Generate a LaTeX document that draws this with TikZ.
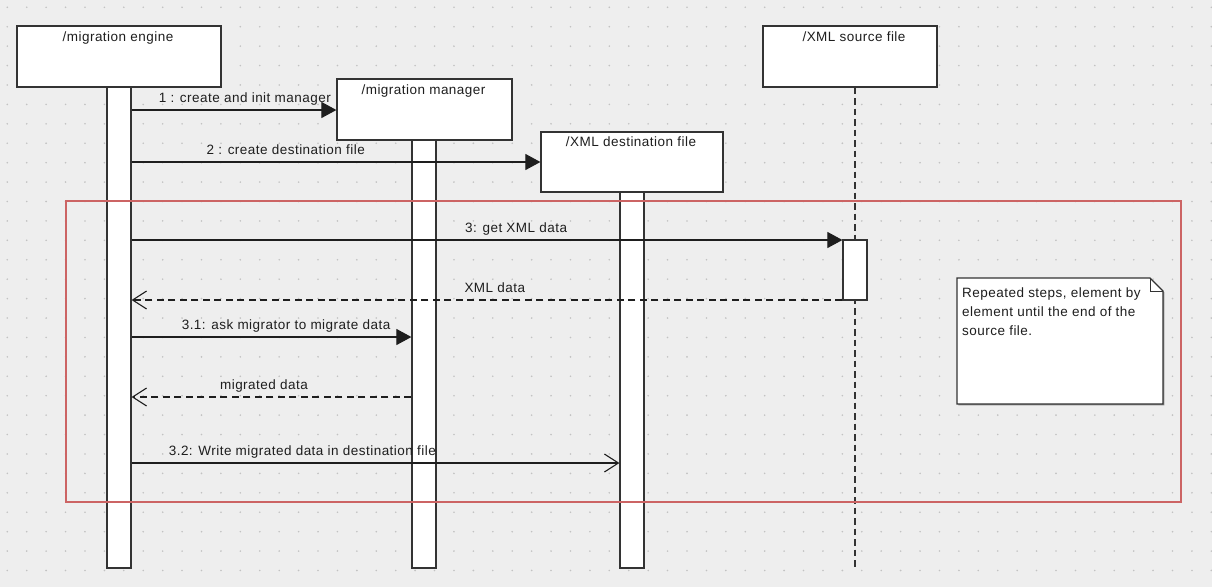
\documentclass[tikz,border=0pt]{standalone}
\usepackage{fontspec}
\setmainfont{Liberation Sans}[LetterSpace=3.5]
\usetikzlibrary{arrows.meta,shadows,calc}

\definecolor{canvas}{HTML}{EEEEEE}
\definecolor{griddot}{HTML}{C2C2C2}
\definecolor{ink}{HTML}{1E1E1E}
\definecolor{edge}{HTML}{333333}
\definecolor{loopframe}{HTML}{CC6464}

\tikzset{
  boxshadow/.style={drop shadow={shadow xshift=1.4pt, shadow yshift=-1.4pt, opacity=0.4, fill=black}},
  lifebox/.style={draw=edge, line width=1.2pt, fill=white, rectangle, inner sep=0pt, boxshadow},
  actbar/.style={lifebox, minimum width=24pt},
  boxtitle/.style={anchor=base, inner sep=0pt, text=ink, font=\fontsize{13.5}{15}\selectfont},
  msg/.style={draw=ink, line width=1.1pt},
  call/.style={msg, -{Triangle[length=15pt,width=16pt]}},
  sendopen/.style={msg, -{Straight Barb[length=14pt,width=18pt,line width=1.1pt]}},
  reply/.style={msg, line width=1.3pt, dash pattern=on 7pt off 4.5pt, -{Straight Barb[length=14pt,width=18pt,line width=1.1pt]}},
  msglabel/.style={anchor=base, yshift=7.5pt, inner sep=0pt, text=ink, font=\fontsize{13.5}{15}\selectfont},
  lifeline/.style={draw=edge, line width=1.6pt, dash pattern=on 6.5pt off 4pt},
}

\begin{document}
\begin{tikzpicture}[x=1pt, y=-1pt]
  % canvas and dotted grid
  \fill[canvas] (0,0) rectangle (1212,587);
  \useasboundingbox (0,0) rectangle (1212,587);
  \foreach \i in {0,...,62}
    \foreach \j in {0,...,30}
      \fill[griddot] ({7.3+19.42*\i},{7.3+19.42*\j}) circle (0.9pt);

  % message heights
  \coordinate (y1) at (0,110);
  \coordinate (y2) at (0,162);
  \coordinate (y3) at (0,240);
  \coordinate (y4) at (0,300);
  \coordinate (y5) at (0,337);
  \coordinate (y6) at (0,397);
  \coordinate (y7) at (0,463);

  % source file lifeline (dashed)
  \node[lifebox, minimum width=174pt, minimum height=61pt] (src) at (850,56.5) {};
  \coordinate (srcend) at (855,567);
  \draw[lifeline] (src.south -| srcend) -- (srcend);

  % lifeline heads
  \node[lifebox, minimum width=204pt, minimum height=61pt] (eng) at (119,56.5) {};
  \node[lifebox, minimum width=175pt, minimum height=61pt] (mgr) at (424.5,109.5) {};
  \node[lifebox, minimum width=182pt, minimum height=60pt] (dst) at (632,162) {};

  \node[boxtitle] (engt) at ([yshift=-16.5pt,xshift=-1pt]eng.north) {/migration engine};
  \node[boxtitle] (mgrt) at ([yshift=-16.5pt,xshift=-1pt]mgr.north) {/migration manager};
  \node[boxtitle] (dstt) at ([yshift=-15.5pt,xshift=-1pt]dst.north) {/XML destination file};
  \node[boxtitle] (srct) at ([yshift=-16.5pt,xshift=4pt]src.north) {/XML source file};

  % activation bars
  \node[actbar, minimum height=481pt] (eb) at (119,327.5) {};
  \node[actbar, minimum height=428pt] (mb) at (424,354) {};
  \node[actbar, minimum height=376pt] (db) at (632,380) {};
  \node[actbar, minimum height=60pt] (sb) at (855,270) {};

  % loop frame
  \draw[loopframe, line width=1.2pt] (66,201) rectangle (1181,502);

  % messages
  \draw[call] (eb.east |- y1) -- (mgr.west |- y1)
    node[msglabel, pos=0.553] {1 : create and init manager};
  \draw[call] (eb.east |- y2) -- (dst.west |- y2)
    node[msglabel, pos=0.377] {2 : create destination file};
  \draw[call] (eb.east |- y3) -- (sb.west |- y3)
    node[msglabel, pos=0.541] {3: get XML data};
  \draw[reply] (sb.west |- y4) -- (eb.east |- y4)
    node[msglabel, pos=0.489] {XML data};
  \draw[call] (eb.east |- y5) -- (mb.west |- y5)
    node[msglabel, pos=0.552] {3.1: ask migrator to migrate data};
  \draw[reply] (mb.west |- y6) -- (eb.east |- y6)
    node[msglabel, pos=0.527] {migrated data};
  \draw[sendopen] (eb.east |- y7) -- (db.west |- y7)
    node[msglabel, pos=0.350] {3.2: Write migrated data in destination file};

  % note with folded corner
  \draw[draw=edge, line width=1.2pt, fill=white, boxshadow]
    (957,278) -- (1150,278) -- (1163,291) -- (1163,404) -- (957,404) -- cycle;
  \draw[draw=edge, line width=1pt] (1150,278) -- (1150,291) -- (1163,291);
  \node[anchor=north west, inner sep=0pt, align=left, text=ink,
        font=\fontsize{13.5}{19}\selectfont] (note) at (962,287.5)
    {Repeated steps, element by\\element until the end of the\\source file.};
\end{tikzpicture}
\end{document}
